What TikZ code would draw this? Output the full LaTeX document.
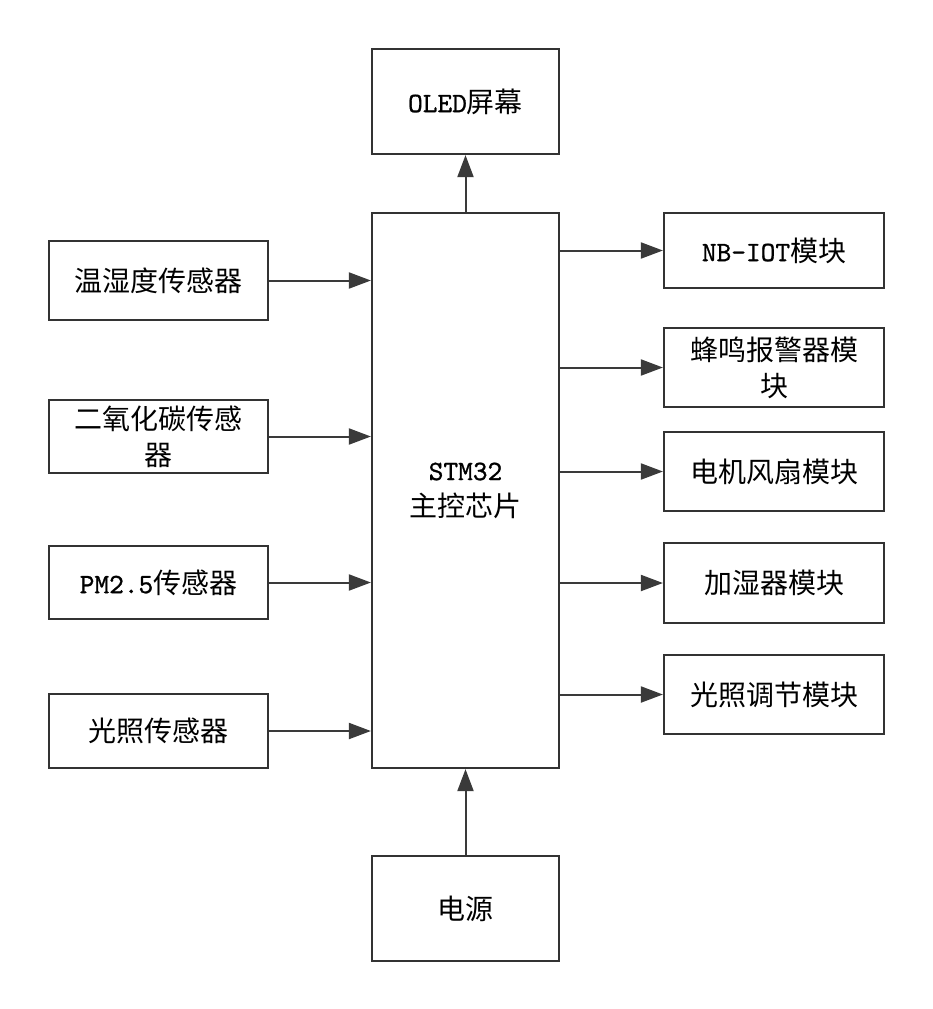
\documentclass[tikz,border=0pt]{standalone}
\usepackage{fontspec}
\newfontfamily\cjk{Noto Sans CJK SC}
\newfontfamily\latn{lmmono10-regular.otf}[FakeBold=1]
\usetikzlibrary{arrows.meta}
\definecolor{boxline}{HTML}{333333}
\definecolor{conn}{HTML}{3a3a3a}
\newcommand{\lt}[1]{{\latn #1}}
\tikzset{
  blk/.style={draw=boxline, line width=2.2pt, align=center, inner sep=0pt,
    font=\cjk\fontsize{28}{36}\selectfont, text=black},
  lbox/.style={blk, minimum width=219pt},
  rbox/.style={blk, minimum width=220pt},
  cbox/.style={blk, minimum width=187pt},
  conn/.style={draw=conn, line width=2pt, -{Triangle[length=22pt,width=16pt]}}
}
\begin{document}
\begin{tikzpicture}[x=1pt,y=-1pt]
\useasboundingbox (0,0) rectangle (932,1009);
% centre column
\node[cbox, minimum height=105pt] (oled) at (465.5,101.5) {\lt{OLED}屏幕};
\node[cbox, minimum height=555pt] (stm) at (465.5,490.5) {\lt{STM32}\\主控芯片};
\node[cbox, minimum height=105pt] (pwr) at (465.5,908.5) {电源};
% left column
\node[lbox, minimum height=79pt] (s1) at (158.5,280.5) {温湿度传感器};
\node[lbox, minimum height=73pt] (s2) at (158.5,436.5) {二氧化碳传感\\器};
\node[lbox, minimum height=73pt] (s3) at (158.5,582.5) {\lt{PM2.5}传感器};
\node[lbox, minimum height=74pt] (s4) at (158.5,731) {光照传感器};
% right column
\node[rbox, minimum height=75pt] (r1) at (774,250.5) {\lt{NB-IOT}模块};
\node[rbox, minimum height=79pt] (r2) at (774,367.5) {蜂鸣报警器模\\块};
\node[rbox, minimum height=79pt] (r3) at (774,471.5) {电机风扇模块};
\node[rbox, minimum height=80pt] (r4) at (774,583) {加湿器模块};
\node[rbox, minimum height=79pt] (r5) at (774,694.5) {光照调节模块};
% connectors
\draw[conn] (stm.north) -- (oled.south);
\draw[conn] (pwr.north) -- (stm.south);
\foreach \s in {s1,s2,s3,s4}
  \draw[conn] (\s.east) -- (\s.east -| stm.west);
\foreach \r in {r1,r2,r3,r4,r5}
  \draw[conn] (stm.east |- \r.west) -- (\r.west);
\end{tikzpicture}
\end{document}
